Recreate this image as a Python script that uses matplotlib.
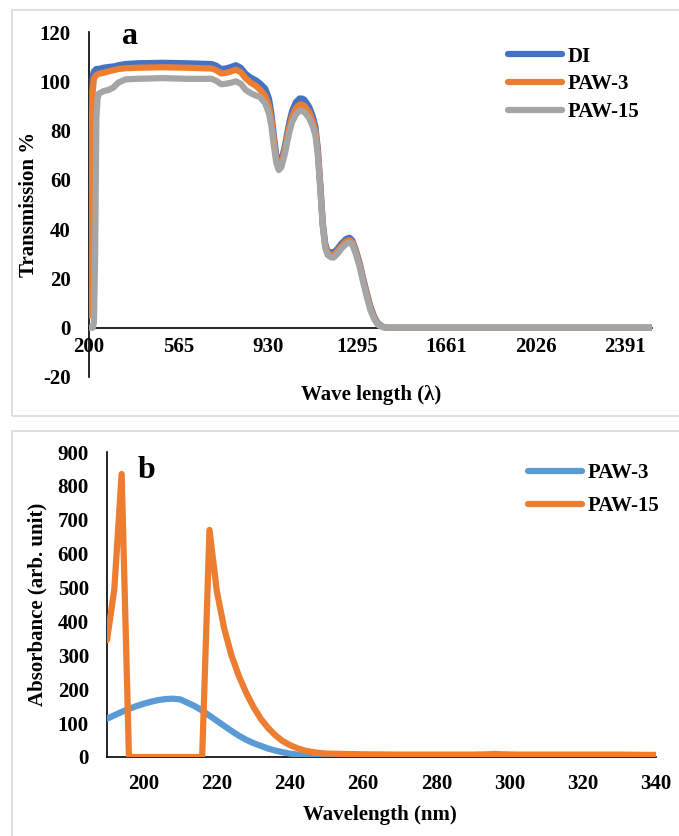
import matplotlib
matplotlib.use("Agg")
import matplotlib.pyplot as plt
from matplotlib.patches import Rectangle

plt.rcParams['font.family'] = ['Liberation Serif', 'DejaVu Serif']
plt.rcParams['font.weight'] = 'bold'
plt.rcParams['axes.unicode_minus'] = False

# ---------------- Panel a data ----------------
a_wave = [200, 205, 210, 215, 220, 225, 230, 235, 240, 260, 280, 300, 320, 350, 400, 500, 600,
          700, 720, 740, 760, 780, 800, 820, 840, 860, 880, 900, 920, 935, 945, 955, 965, 975,
          985, 1000, 1010, 1020, 1030, 1045, 1060, 1070, 1080, 1100, 1115, 1125, 1135, 1145,
          1155, 1165, 1175, 1190, 1200, 1215, 1230, 1250, 1265, 1275, 1290, 1305, 1320, 1335,
          1350, 1365, 1380, 1400, 1420, 1600, 1800, 2000, 2200, 2400, 2500]
di = [25, 55, 90, 102, 104, 104.5, 105, 105, 105, 105.5, 105.8, 106, 106.5, 107, 107.3, 107.5, 107.3,
      107, 106.3, 105, 105.2, 105.8, 106.5, 105.5, 103, 101.5, 100.5, 99, 97, 93, 87, 78, 70, 66.5,
      67.5, 73.5, 79, 84, 88, 91.5, 93, 93, 92.5, 89.5, 85.5, 81.5, 72.5, 58,
      42.5, 34, 31, 30.5, 30.5, 32, 34, 36, 36.5, 35.5, 31.5, 26.5, 20, 14,
      8.5, 4.5, 1.8, 0.4, 0, 0, 0, 0, 0, 0, 0]
paw3_a = [5, 30, 75, 96, 101, 102, 102.5, 102.8, 103, 103.5, 104, 104.5, 105, 105.3, 105.5, 105.7, 105.5,
          105.2, 104.5, 103.2, 103.4, 104, 104.7, 103.7, 101.2, 99.5, 98.3, 96.5, 94, 90, 84.5, 76, 68.5, 65.3,
          66.3, 72, 77.5, 82, 85.8, 89, 90.5, 90.5, 90, 87.3, 83.5, 79.8, 71.2, 57,
          41.7, 33.2, 30.2, 29.5, 29.5, 31, 33, 35, 35.5, 34.7, 30.8, 25.8, 19.3, 13.3,
          7.8, 4, 1.5, 0.3, 0, 0, 0, 0, 0, 0, 0]
paw15_a = [0, 0, 0, 0, 2, 30, 85, 93, 95, 96, 96.5, 97.5, 99.5, 100.8, 101, 101.3, 101,
           101, 100.2, 98.8, 99, 99.4, 100, 99, 96.5, 95.2, 94.3, 93.5, 91, 87, 82, 74, 67, 64,
           65, 70.5, 75.5, 80, 83.5, 86.5, 88, 88, 87.5, 85, 81.5, 78, 70, 56,
           41, 32.5, 29.5, 28.5, 28.5, 30, 32, 34, 34.5, 34, 30, 25, 18.5, 12.5,
           7, 3.5, 1.2, 0.2, 0, 0, 0, 0, 0, 0, 0]
a_xticks = [200, 565, 930, 1295, 1661, 2026, 2391]
a_yticks = [-20, 0, 20, 40, 60, 80, 100, 120]

# ---------------- Panel b data ----------------
b_paw3_x = [190, 192, 194, 196, 198, 200, 202, 204, 206, 208, 210, 212, 214, 216, 218, 220, 222,
            224, 226, 228, 230, 232, 234, 236, 238, 240, 242, 244, 246, 248, 250, 260, 280, 300,
            320, 340]
b_paw3_y = [113, 123, 133, 142, 150, 157, 163, 168, 171, 172, 170, 160, 150, 137, 122, 107, 92,
            77, 63, 51, 41, 33, 25, 19, 14, 10, 7, 5, 3, 2, 1, 0.5, 0, 0.5,
            0, 0]
b_paw15_x = [190, 192, 194, 196, 216, 218, 220, 222, 224, 226, 228, 230, 232, 234, 236, 238, 240,
             242, 244, 246, 248, 250, 255, 260, 270, 280, 290, 294, 296, 298, 302, 310, 320, 330, 340]
b_paw15_y = [345, 495, 835, 0, 0, 670, 490, 380, 300, 240, 190, 148, 113, 86, 64, 47, 35,
             26, 19, 15, 12, 10, 9, 8, 7, 7, 7, 8, 9, 8, 7, 7, 7, 7, 6]
b_xticks = [200, 220, 240, 260, 280, 300, 320, 340]
b_yticks = [0, 100, 200, 300, 400, 500, 600, 700, 800, 900]

W, H = 679, 836
fig = plt.figure(figsize=(W / 100, H / 100), dpi=100)
fig.patch.set_facecolor('white')


def fx(px):
    return px / W


def fy(py):
    return 1 - py / H


# panel frames
fig.patches.append(Rectangle((fx(11.5), fy(416.5)), 1.0, fy(10) - fy(416.5), transform=fig.transFigure,
                             fill=False, edgecolor='#D9D9D9', lw=1.2, zorder=0))
fig.patches.append(Rectangle((fx(11.5), -0.05), 1.0, fy(431.5) + 0.05, transform=fig.transFigure,
                             fill=False, edgecolor='#D9D9D9', lw=1.2, zorder=0))

line_kw = dict(lw=4.5, solid_joinstyle='round', solid_capstyle='round')
tick_font = 15

# ---------------- Panel a ----------------
axa = fig.add_axes([fx(89), fy(377), fx(652) - fx(89), fy(32) - fy(377)])
axa.plot(a_wave, di, color='#4472C4', label='DI', **line_kw)
axa.plot(a_wave, paw3_a, color='#ED7D31', label='PAW-3', **line_kw)
axa.plot(a_wave, paw15_a, color='#A5A5A5', label='PAW-15', **line_kw)
axa.set_xlim(200, 2500)
axa.set_ylim(-20, 120)
axa.spines['left'].set_position(('data', 200))
axa.spines['bottom'].set_position(('data', 0))
for s in ['top', 'right']:
    axa.spines[s].set_visible(False)
for s in ['left', 'bottom']:
    axa.spines[s].set_linewidth(1.2)
    axa.spines[s].set_zorder(1)
axa.set_xticks(a_xticks)
axa.set_yticks(a_yticks)
axa.tick_params(axis='x', length=0, pad=6.5, labelsize=tick_font)
axa.tick_params(axis='y', length=0, pad=13, labelsize=tick_font)
axa.patch.set_alpha(0)
axa.legend(loc='upper left', bbox_to_anchor=(fx(508), fy(46.5)), bbox_transform=fig.transFigure,
           frameon=False, fontsize=15, handlelength=2.6, handletextpad=0.25, labelspacing=0.38,
           borderpad=0, borderaxespad=0)
fig.text(fx(130), fy(44), 'a', fontsize=23, fontweight='bold', ha='center', va='baseline')
fig.text(fx(29), fy(204), 'Transmission %', fontsize=15, fontweight='bold', rotation=90,
         ha='center', va='center')
fig.text(fx(371), fy(395), 'Wave length (λ)', fontsize=15, fontweight='bold', ha='center', va='center')

# ---------------- Panel b ----------------
axb = fig.add_axes([fx(107), fy(757), fx(656) - fx(107), fy(452) - fy(757)])
axb.plot(b_paw3_x, b_paw3_y, color='#5B9BD5', label='PAW-3', **line_kw)
axb.plot(b_paw15_x, b_paw15_y, color='#ED7D31', label='PAW-15', **line_kw)
axb.set_xlim(190, 340)
axb.set_ylim(0, 900)
for s in ['top', 'right']:
    axb.spines[s].set_visible(False)
for s in ['left', 'bottom']:
    axb.spines[s].set_linewidth(1.2)
    axb.spines[s].set_zorder(1)
axb.set_xticks(b_xticks)
axb.set_yticks(b_yticks)
axb.tick_params(axis='x', length=0, pad=12, labelsize=tick_font)
axb.tick_params(axis='y', length=0, pad=13, labelsize=tick_font)
axb.patch.set_alpha(0)
for ax in (axa, axb):
    for t in ax.get_xticklabels() + ax.get_yticklabels():
        t.set_fontweight('bold')
axb.legend(loc='upper left', bbox_to_anchor=(fx(528), fy(463)), bbox_transform=fig.transFigure,
           frameon=False, fontsize=15, handlelength=2.6, handletextpad=0.25, labelspacing=0.62,
           borderpad=0, borderaxespad=0)
fig.text(fx(146), fy(478), 'b', fontsize=23, fontweight='bold', ha='center', va='baseline')
fig.text(fx(37), fy(604), 'Absorbance (arb. unit)', fontsize=15, fontweight='bold', rotation=90,
         ha='center', va='center')
fig.text(fx(380), fy(815), 'Wavelength (nm)', fontsize=15, fontweight='bold', ha='center', va='center')

fig.savefig('out.png', dpi=100, facecolor='white')
